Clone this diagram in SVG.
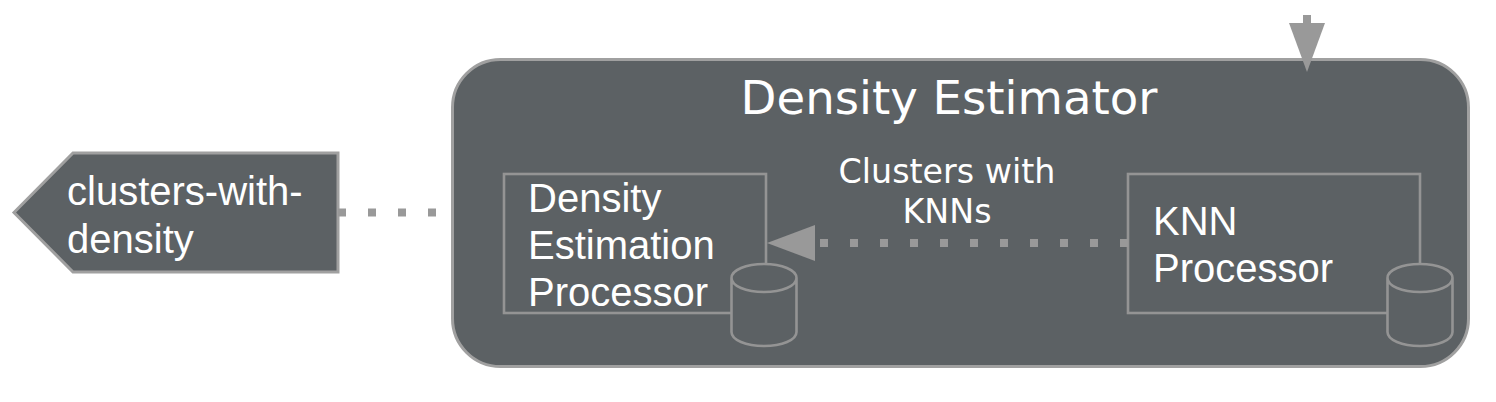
<svg xmlns="http://www.w3.org/2000/svg" width="1496" height="402" viewBox="0 0 1496 402">
<style>
.shape{fill:#5c6164;stroke:#a0a0a0;stroke-width:3}
.box{fill:none;stroke:#949494;stroke-width:2.600}
.cyl{fill:#5c6164;stroke:#949494;stroke-width:2.600}
.dot{fill:none;stroke:#999;stroke-width:8;stroke-dasharray:8 22}
.head{fill:#999}
.s{font-family:"Liberation Sans",Arial,sans-serif;font-size:40px;fill:#fff}
.d{font-family:"DejaVu Sans",sans-serif;fill:#fff;text-anchor:middle}
</style>
<rect width="1496" height="402" fill="#fff"/>
<g id="density-estimator">
<rect class="shape" x="452.500" y="59.500" width="1016" height="307" rx="48" ry="48"/>
<text class="d" x="949" y="114" font-size="46.600">Density Estimator</text>
</g>
<g id="clusters-with-density">
<path class="shape" d="M14 212.500L73 153H338V272H73Z"/>
<text class="s" x="67" y="205">clusters-with-</text>
<text class="s" x="67" y="253">density</text>
</g>
<g id="density-estimation-processor">
<rect class="box" x="504" y="174" width="262" height="139"/>
<text class="s" x="528" y="212">Density</text>
<text class="s" x="528" y="259">Estimation</text>
<text class="s" x="528" y="306">Processor</text>
<path class="cyl" d="M731.500 278V332C731.500 340 746 346 764 346S796.500 340 796.500 332V278C796.500 270 782 264 764 264S731.500 270 731.500 278C731.500 286 746 292 764 292S796.500 286 796.500 278"/>
</g>
<g id="knn-processor">
<rect class="box" x="1128" y="174" width="292" height="139"/>
<text class="s" x="1153" y="235">KNN</text>
<text class="s" x="1153" y="282">Processor</text>
<path class="cyl" d="M1387.500 278V332C1387.500 340 1402 346 1420 346S1452.500 340 1452.500 332V278C1452.500 270 1438 264 1420 264S1387.500 270 1387.500 278C1387.500 286 1402 292 1420 292S1452.500 286 1452.500 278"/>
</g>
<g id="connectors">
<path class="dot" d="M338 212.500H438"/>
<path class="dot" d="M1128 243H820"/>
<path class="head" d="M767 243L815 225V261Z"/>
<path class="dot" d="M1307 15V24" style="stroke-dasharray:none"/>
<path class="head" d="M1289 23H1325L1307 72Z"/>
</g>
<text class="d" x="947" y="183" font-size="33.300">Clusters with</text>
<text class="d" x="947" y="223" font-size="33.300">KNNs</text>
</svg>
